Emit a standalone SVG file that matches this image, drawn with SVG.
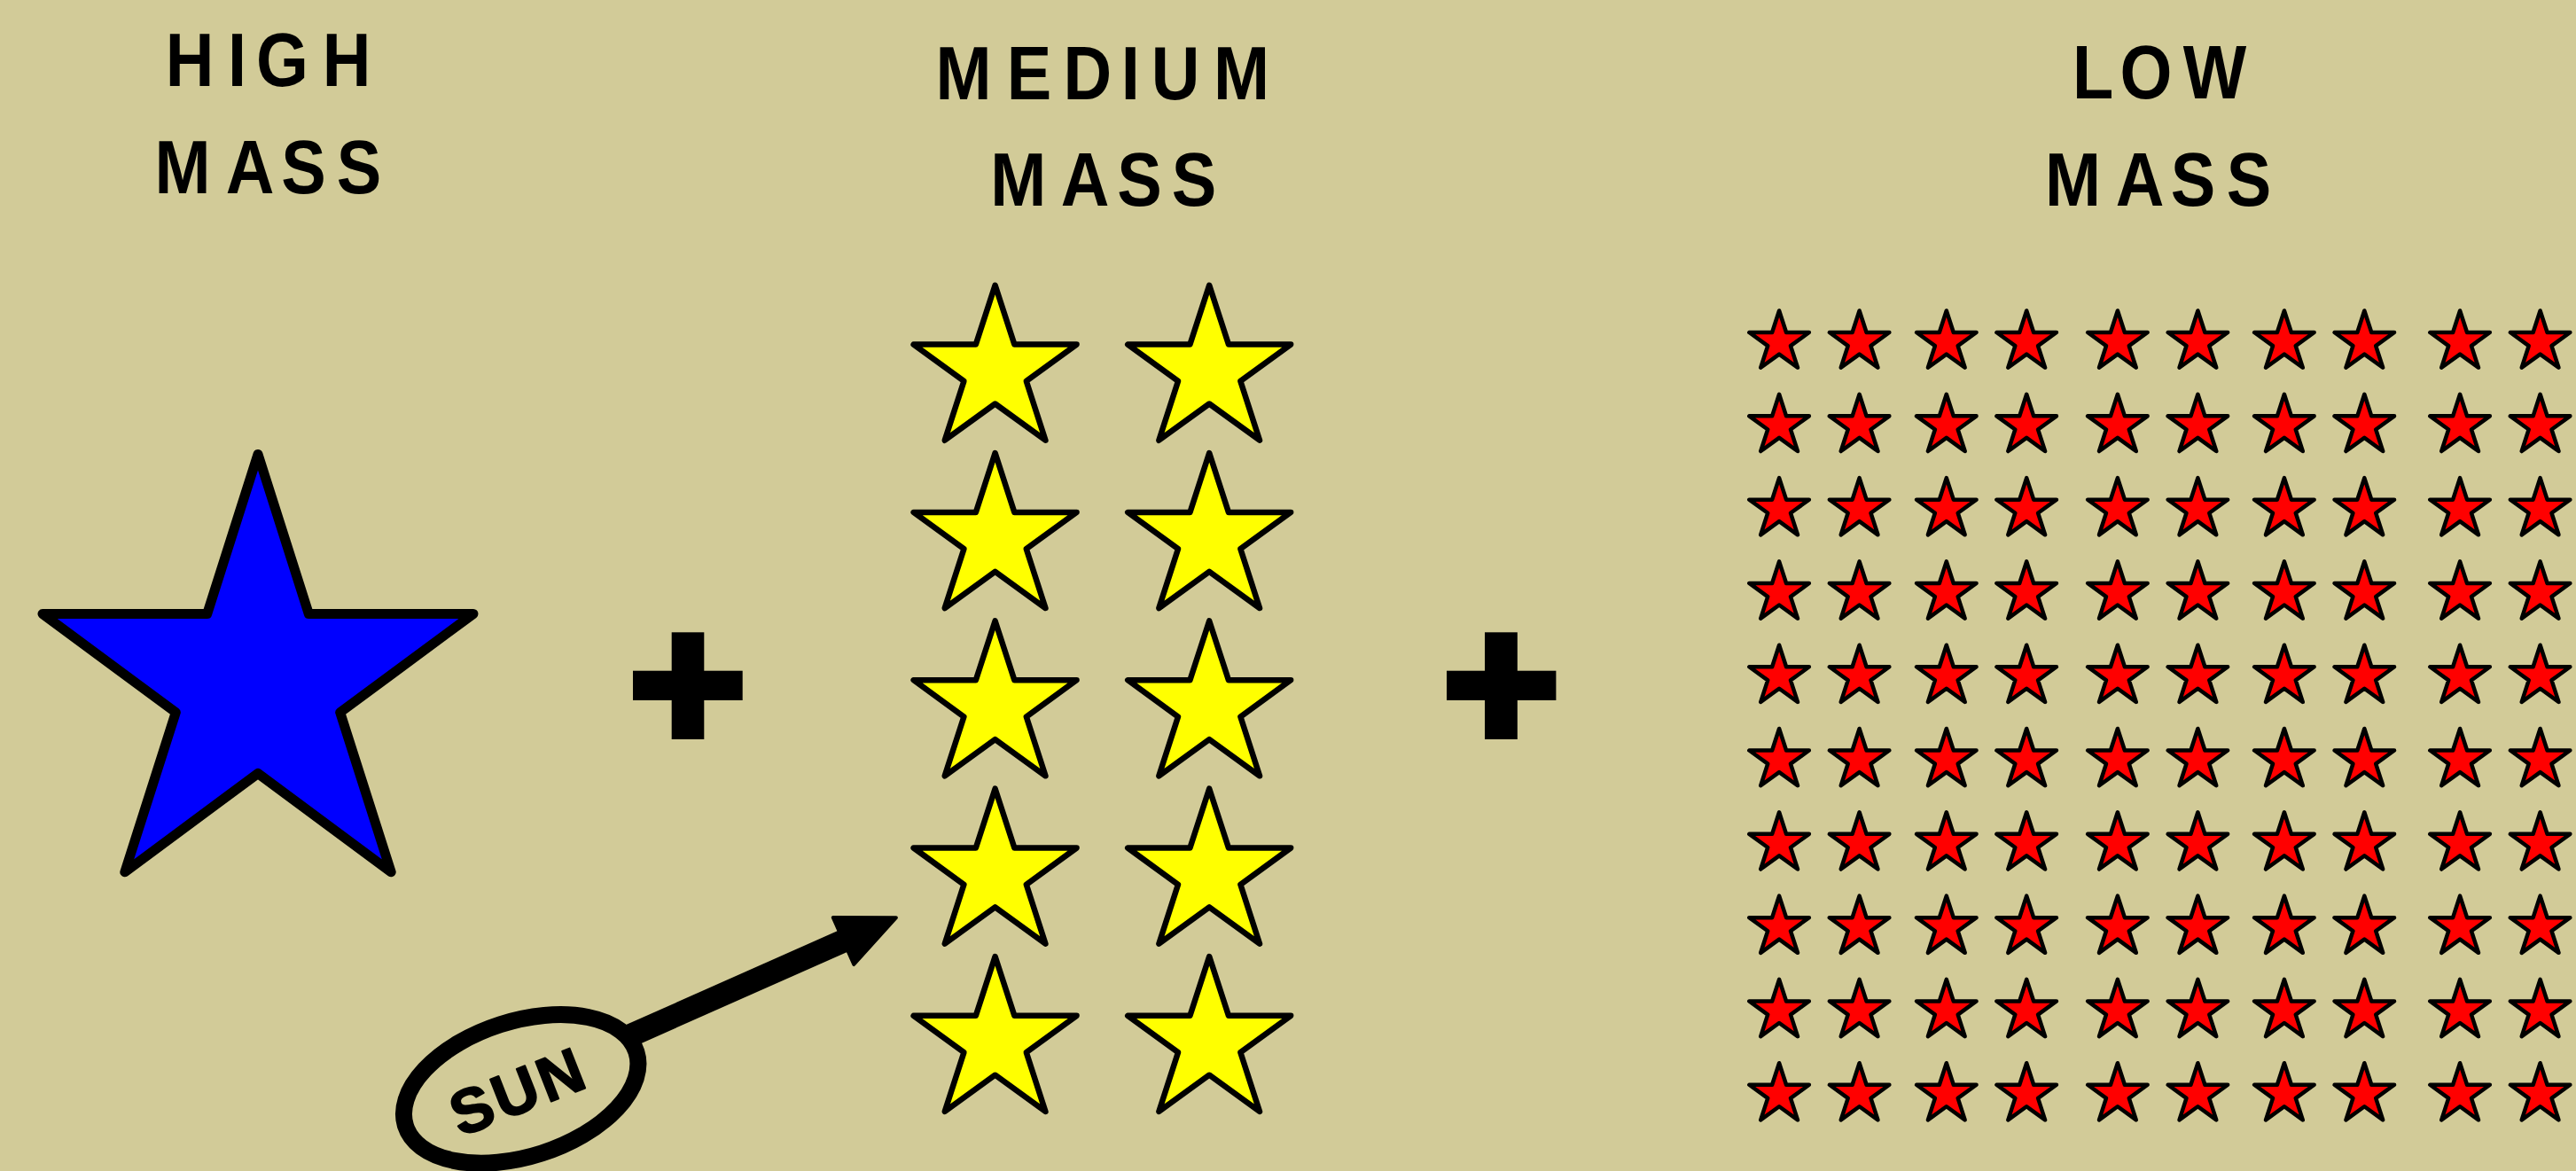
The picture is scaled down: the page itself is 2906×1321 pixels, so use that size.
<svg xmlns="http://www.w3.org/2000/svg" xmlns:xlink="http://www.w3.org/1999/xlink" width="2906" height="1321" viewBox="0 0 2906 1321">
  <style>
    .head { font-family: "Liberation Sans", Arial, sans-serif; font-weight: bold; font-size: 86px; fill: #000; text-anchor: middle; }
    .sun { font-family: "Liberation Sans", Arial, sans-serif; font-weight: bold; font-size: 70px; fill: #000; stroke: #000; stroke-width: 2px; stroke-linejoin: round; text-anchor: middle; letter-spacing: 4px; }
    .blue { fill: #0000ff; stroke: #000; stroke-width: 11; stroke-linejoin: round; }
    .yellow { fill: #ffff00; stroke: #000; stroke-width: 6.5; stroke-linejoin: round; }
    .red { fill: #ff0000; stroke: #000; stroke-width: 4.5; stroke-linejoin: round; }
    .plus { fill: #000; }
  </style>
  <defs>
    <polygon id="ystar" class="yellow" points="0,-96.7 21.75,-29.9 91.97,-29.9 35.19,11.43 56.84,78.23 0,37 -56.84,78.23 -35.19,11.43 -91.97,-29.9 -21.75,-29.9"/>
    <polygon id="rstar" class="red" points="0,-35.5 7.97,-10.97 33.76,-10.97 12.9,4.19 20.87,28.72 0,13.56 -20.87,28.72 -12.9,4.19 -33.76,-10.97 -7.97,-10.97"/>
    <marker id="head" markerUnits="userSpaceOnUse" markerWidth="80" markerHeight="80" refX="0" refY="0" orient="auto" overflow="visible">
      <path d="M0,-29 L65,0 L0,29 Z" fill="#000" stroke="#000" stroke-width="4" stroke-linejoin="round"/>
    </marker>
  </defs>

  <rect id="background" x="0" y="0" width="2906" height="1321" fill="#d2cb98"/>

  <g id="label-high" transform="scale(0.88,1)">
    <text class="head" x="243.2 304 361.9 444.3" y="97">HIGH</text>
    <text class="head" x="234.1 320.5 389.2 460.2" y="218">MASS</text>
  </g>
  <g id="label-medium" transform="scale(0.88,1)">
    <text class="head" x="1235.2 1319.3 1394 1449.2 1506.8 1591.5" y="111.7">MEDIUM</text>
    <text class="head" x="1305.3 1390.9 1460.8 1530.7" y="232.3">MASS</text>
  </g>
  <g id="label-low" transform="scale(0.88,1)">
    <text class="head" x="2683 2751.1 2839.2" y="111">LOW</text>
    <text class="head" x="2657.4 2743.2 2811.4 2883" y="232">MASS</text>
  </g>

  <g id="high-mass-star">
    <polygon class="blue" points="291,512.4 348.3,692.5 534,692.5 383.7,803.7 441.2,983.8 291,872.5 140.8,983.8 198.3,803.7 48,692.5 233.7,692.5"/>
  </g>

  <g id="plus-1">
    <rect class="plus" x="757.7" y="713.3" width="36.6" height="120.7"/>
    <rect class="plus" x="714" y="756.7" width="123.7" height="33.3"/>
  </g>
  <g id="plus-2">
    <rect class="plus" x="1675" y="713.3" width="36.8" height="120.7"/>
    <rect class="plus" x="1632" y="756.7" width="123.4" height="33.3"/>
  </g>

  <g id="medium-mass-stars">
    <use xlink:href="#ystar" href="#ystar" x="1122.6" y="418.5"/>
    <use xlink:href="#ystar" href="#ystar" x="1364.2" y="418.5"/>
    <use xlink:href="#ystar" href="#ystar" x="1122.6" y="607.8"/>
    <use xlink:href="#ystar" href="#ystar" x="1364.2" y="607.8"/>
    <use xlink:href="#ystar" href="#ystar" x="1122.6" y="797.1"/>
    <use xlink:href="#ystar" href="#ystar" x="1364.2" y="797.1"/>
    <use xlink:href="#ystar" href="#ystar" x="1122.6" y="986.4"/>
    <use xlink:href="#ystar" href="#ystar" x="1364.2" y="986.4"/>
    <use xlink:href="#ystar" href="#ystar" x="1122.6" y="1175.7"/>
    <use xlink:href="#ystar" href="#ystar" x="1364.2" y="1175.7"/>
  </g>

  <g id="low-mass-stars">
    <g id="row-0" transform="translate(0,386)">
      <use href="#rstar" x="2007.1"/><use href="#rstar" x="2097.6"/><use href="#rstar" x="2195.8"/><use href="#rstar" x="2286.2"/><use href="#rstar" x="2388.9"/><use href="#rstar" x="2479.4"/><use href="#rstar" x="2576.9"/><use href="#rstar" x="2667.3"/><use href="#rstar" x="2775.1"/><use href="#rstar" x="2865.6"/>
    </g>
    <use href="#row-0" y="94.3"/>
    <use href="#row-0" y="188.6"/>
    <use href="#row-0" y="282.9"/>
    <use href="#row-0" y="377.2"/>
    <use href="#row-0" y="471.5"/>
    <use href="#row-0" y="565.8"/>
    <use href="#row-0" y="660.1"/>
    <use href="#row-0" y="754.4"/>
    <use href="#row-0" y="848.7"/>
  </g>

  <g id="sun-label">
    <ellipse cx="587.7" cy="1228.4" rx="136.7" ry="76.3" transform="rotate(-17.8 587.7 1228.4)" fill="none" stroke="#000" stroke-width="19"/>
    <text class="sun" x="594" y="1254" transform="rotate(-21.5 592.4 1254)">SUN</text>
  </g>

  <g id="connectors">
    <line x1="707" y1="1170" x2="951.5" y2="1061.5" stroke="#000" stroke-width="26" marker-end="url(#head)"/>
  </g>
</svg>
